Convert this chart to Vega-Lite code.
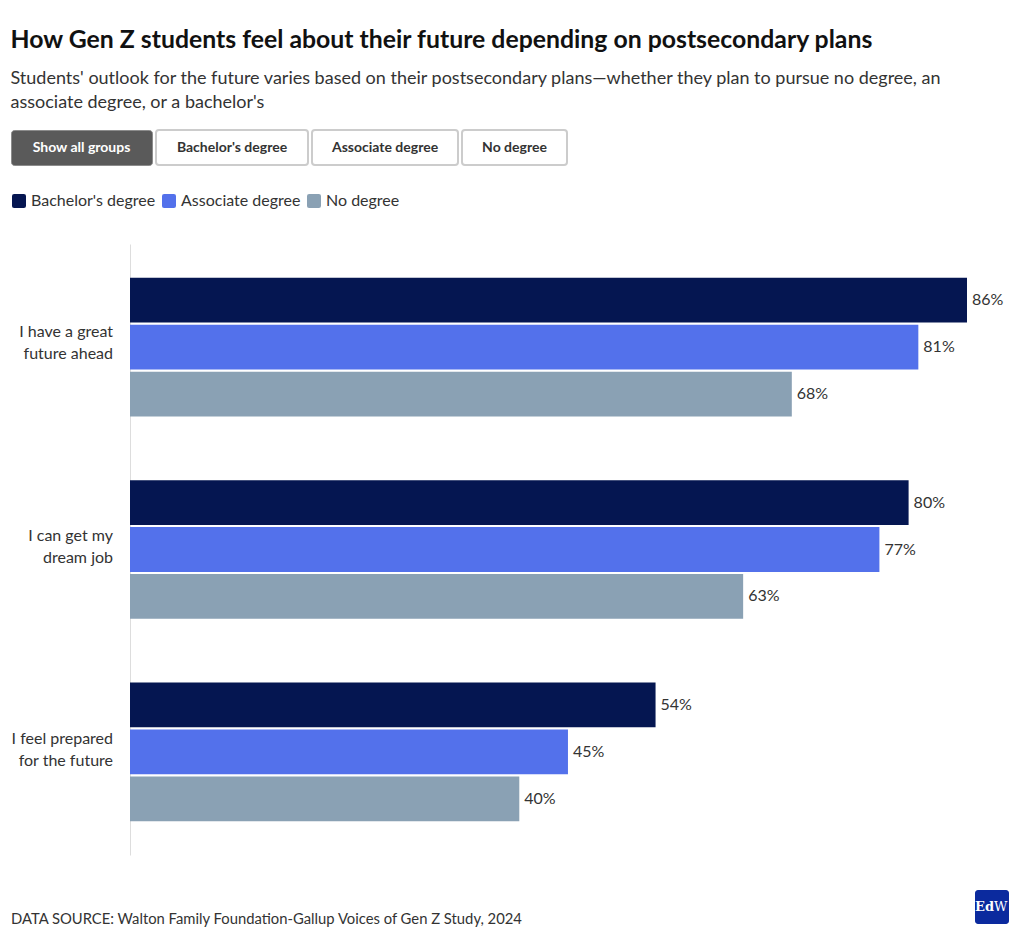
{
  "$schema": "https://vega.github.io/schema/vega-lite/v6.json",
  "background": "white",
  "padding": {"left": 10, "top": 28, "right": 5, "bottom": 5},
  "config": {"font": "Lato", "view": {"stroke": null}},
  "datasets": {
    "survey": [
      {"statement": "I have a great|future ahead", "plan": "Bachelor's degree", "pct": 0.86},
      {"statement": "I have a great|future ahead", "plan": "Associate degree", "pct": 0.81},
      {"statement": "I have a great|future ahead", "plan": "No degree", "pct": 0.68},
      {"statement": "I can get my|dream job", "plan": "Bachelor's degree", "pct": 0.80},
      {"statement": "I can get my|dream job", "plan": "Associate degree", "pct": 0.77},
      {"statement": "I can get my|dream job", "plan": "No degree", "pct": 0.63},
      {"statement": "I feel prepared|for the future", "plan": "Bachelor's degree", "pct": 0.54},
      {"statement": "I feel prepared|for the future", "plan": "Associate degree", "pct": 0.45},
      {"statement": "I feel prepared|for the future", "plan": "No degree", "pct": 0.40}
    ],
    "statements": [
      {"statement": "I have a great|future ahead"},
      {"statement": "I can get my|dream job"},
      {"statement": "I feel prepared|for the future"}
    ],
    "plans": [
      {"plan": "Bachelor's degree"},
      {"plan": "Associate degree"},
      {"plan": "No degree"}
    ]
  },
  "title": {
    "text": "How Gen Z students feel about their future depending on postsecondary plans",
    "subtitle": ["Students' outlook for the future varies based on their postsecondary plans—whether they plan to pursue no degree, an", "associate degree, or a bachelor's"],
    "anchor": "start",
    "fontSize": 24.8,
    "fontWeight": "bold",
    "color": "#111111",
    "subtitleFont": "Lato",
    "subtitleFontSize": 18,
    "subtitleColor": "#333333",
    "subtitleLineHeight": 24,
    "subtitlePadding": 17,
    "offset": 17
  },
  "resolve": {"legend": {"color": "independent"}, "scale": {"color": "independent"}},
  "concat": [
    {
      "hconcat": [
        {
          "width": 141, "height": 35,
          "view": {"fill": "#5a5a5a", "stroke": "#8c8c8c", "strokeWidth": 1, "cornerRadius": 3},
          "data": {"values": [{"t": "Show all groups"}]},
          "mark": {"type": "text", "fontSize": 14, "fontWeight": "bold", "color": "#ffffff"},
          "encoding": {"text": {"field": "t"}}
        },
        {
          "width": 152, "height": 35,
          "view": {"fill": "#ffffff", "stroke": "#cccccc", "strokeWidth": 2, "cornerRadius": 3},
          "data": {"values": [{"t": "Bachelor's degree"}]},
          "mark": {"type": "text", "fontSize": 14, "fontWeight": "bold", "color": "#333333"},
          "encoding": {"text": {"field": "t"}}
        },
        {
          "width": 146, "height": 35,
          "view": {"fill": "#ffffff", "stroke": "#cccccc", "strokeWidth": 2, "cornerRadius": 3},
          "data": {"values": [{"t": "Associate degree"}]},
          "mark": {"type": "text", "fontSize": 14, "fontWeight": "bold", "color": "#333333"},
          "encoding": {"text": {"field": "t"}}
        },
        {
          "width": 105, "height": 35,
          "view": {"fill": "#ffffff", "stroke": "#cccccc", "strokeWidth": 2, "cornerRadius": 3},
          "data": {"values": [{"t": "No degree"}]},
          "mark": {"type": "text", "fontSize": 14, "fontWeight": "bold", "color": "#333333"},
          "encoding": {"text": {"field": "t"}}
        }
      ],
      "spacing": 2
    },
    {
      "resolve": {"legend": {"color": "independent"}, "scale": {"color": "independent"}},
      "concat": [
        {
          "width": 1, "height": 14,
          "data": {"name": "plans"},
          "transform": [{"filter": "false"}],
          "mark": {"type": "square", "filled": true},
          "encoding": {
            "color": {
              "field": "plan", "type": "nominal",
              "scale": {"domain": ["Bachelor's degree", "Associate degree", "No degree"], "range": ["#051651", "#5371eb", "#8aa1b4"]},
              "legend": {
                "orient": "none", "legendX": 0, "legendY": -2,
                "direction": "horizontal", "title": null,
                "symbolType": "M-0.7,-1H0.7Q1,-1 1,-0.7V0.7Q1,1 0.7,1H-0.7Q-1,1 -1,0.7V-0.7Q-1,-1 -0.7,-1Z",
                "symbolSize": 196, "symbolStrokeWidth": 0, "symbolOpacity": 1,
                "labelFontSize": 16, "labelColor": "#333333", "columnPadding": 5, "labelOffset": 4
              }
            }
          }
        },
        {
          "hconcat": [
            {
              "width": 102, "height": 611,
              "data": {"name": "statements"},
              "mark": {"type": "text", "align": "right", "lineBreak": "|", "fontSize": 16, "lineHeight": 22, "dy": -14, "color": "#333333"},
              "encoding": {
                "y": {
                  "field": "statement", "type": "nominal",
                  "sort": ["I have a great|future ahead", "I can get my|dream job", "I feel prepared|for the future"],
                  "scale": {"paddingInner": 0.315, "paddingOuter": 0.167},
                  "axis": null
                },
                "x": {"datum": 1, "type": "quantitative", "scale": {"domain": [0, 1]}, "axis": null},
                "text": {"field": "statement"}
              }
            },
            {
              "width": 837,
              "height": 611,
              "data": {"name": "survey"},
              "encoding": {
                "y": {
                  "field": "statement", "type": "nominal",
                  "sort": ["I have a great|future ahead", "I can get my|dream job", "I feel prepared|for the future"],
                  "scale": {"paddingInner": 0.315, "paddingOuter": 0.167},
                  "title": null,
                  "axis": {"labels": false, "ticks": false, "domainColor": "#dddddd", "domainWidth": 1}
                },
                "yOffset": {
                  "field": "plan", "type": "nominal",
                  "sort": ["Bachelor's degree", "Associate degree", "No degree"],
                  "scale": {"paddingInner": 0.045, "paddingOuter": 0}
                },
                "x": {
                  "field": "pct", "type": "quantitative",
                  "scale": {"domain": [0, 0.86], "nice": false},
                  "axis": null
                }
              },
              "layer": [
                {
                  "mark": {"type": "bar"},
                  "encoding": {
                    "color": {
                      "field": "plan", "type": "nominal",
                      "scale": {"domain": ["Bachelor's degree", "Associate degree", "No degree"], "range": ["#051651", "#5371eb", "#8aa1b4"]},
                      "legend": null
                    }
                  }
                },
                {
                  "mark": {"type": "text", "align": "left", "dx": 5, "fontSize": 16, "color": "#333333"},
                  "encoding": {"text": {"field": "pct", "type": "quantitative", "format": ".0%"}}
                }
              ]
            }
          ],
          "spacing": 17
        },
        {
          "hconcat": [
            {
              "width": 930, "height": 34,
              "data": {"values": [{"t": "DATA SOURCE: Walton Family Foundation-Gallup Voices of Gen Z Study, 2024"}]},
              "mark": {"type": "text", "align": "left", "fontSize": 14.8, "color": "#333333", "dy": 13},
              "encoding": {
                "x": {"datum": 0, "type": "quantitative", "scale": {"domain": [0, 1]}, "axis": null},
                "text": {"field": "t"}
              }
            },
            {
              "width": 34, "height": 34,
              "view": {"fill": "#0b2a9e", "cornerRadius": 3},
              "data": {"values": [{"a": "Ed", "b": "W"}]},
              "layer": [
                {
                  "mark": {"type": "text", "align": "right", "dx": 2, "font": "DejaVu Serif", "fontWeight": "bold", "fontSize": 13, "color": "#ffffff"},
                  "encoding": {"text": {"field": "a"}}
                },
                {
                  "mark": {"type": "text", "align": "left", "dx": 2, "font": "DejaVu Serif", "fontSize": 13, "color": "#ffffff"},
                  "encoding": {"text": {"field": "b"}}
                }
              ]
            }
          ],
          "spacing": 34
        }
      ],
      "columns": 1,
      "spacing": 35
    }
  ],
  "columns": 1,
  "spacing": 27
}
